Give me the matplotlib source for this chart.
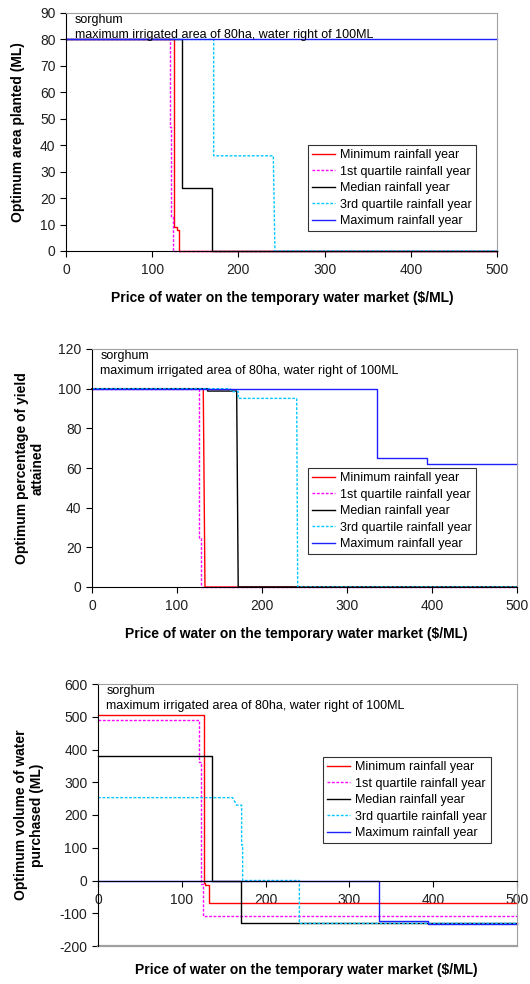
import numpy as np
import matplotlib
matplotlib.use("Agg")
import matplotlib.pyplot as plt

plt.rcParams['font.family'] = ['Liberation Sans', 'DejaVu Sans']
plt.rcParams['axes.unicode_minus'] = False

# series names (legend order)
series_names = ["Minimum rainfall year", "1st quartile rainfall year", "Median rainfall year",
                "3rd quartile rainfall year", "Maximum rainfall year"]
colors = ["#ff0000", "#ff00ff", "#000000", "#00c8ff", "#2020ff"]
dotted = [False, True, False, True, False]

# panel 1: optimum area planted
area_x = [
    [0, 125.6, 125.6, 128.4, 128.4, 131, 131, 500],
    [0, 121, 121, 122, 122, 124, 124, 500],
    [0, 134.2, 134.2, 169.7, 169.7, 500],
    [0, 171.3, 171.3, 240.5, 242.4, 500],
    [0, 500],
]
area_y = [
    [80, 80, 9.2, 9.2, 8, 8, 0, 0],
    [80, 80, 47, 47, 13, 13, 0, 0],
    [80, 80, 24, 24, 0, 0],
    [80, 80, 36, 36, 0, 0],
    [80, 80],
]

# panel 2: optimum percentage of yield attained
yield_x = [
    [0, 130.9, 132.9, 500],
    [0, 126.2, 126.2, 127.8, 127.8, 500],
    [0, 136, 136, 170.2, 172, 500],
    [0, 162.4, 164, 172, 172, 240.8, 242, 500],
    [0, 335, 335, 393.7, 393.7, 500],
]
yield_y = [
    [100, 100, 0, 0],
    [100, 100, 24.5, 24.5, 0, 0],
    [100, 100, 98.8, 98.8, 0, 0],
    [100, 100, 98.5, 98.5, 95.1, 95.1, 0, 0],
    [100, 100, 64.9, 64.9, 62, 62],
]

# panel 3: optimum volume of water purchased
vol_x = [
    [0, 125.9, 125.9, 128, 128, 131.9, 131.9, 500],
    [0, 120.9, 120.9, 122.5, 122.5, 125.7, 125.7, 500],
    [0, 135.7, 135.7, 170.8, 170.8, 500],
    [0, 160.7, 165.5, 171.4, 171.4, 172.6, 172.6, 240.3, 240.3, 500],
    [0, 335.3, 335.3, 393.4, 393.4, 500],
]
vol_y = [
    [506, 506, -8, -8, -14, -14, -70, -70],
    [490, 490, 363, 363, -12, -12, -108, -108],
    [380, 380, 0, 0, -131, -131],
    [253, 253, 230, 230, 108, 108, 0, 0, -131, -131],
    [0, 0, -123, -123, -133, -133],
]

note = "sorghum\nmaximum irrigated area of 80ha, water right of 100ML"
xlabel = "Price of water on the temporary water market ($/ML)"

W, H = 530, 984
fig = plt.figure(figsize=(W / 100, H / 100), dpi=100)


def make_axes(l, r, t, b):
    return fig.add_axes([l / W, 1 - b / H, (r - l) / W, (b - t) / H])


def style(ax):
    ax.spines['top'].set_color('#a0a0a0')
    ax.spines['right'].set_color('#a0a0a0')
    ax.spines['left'].set_color('black')
    ax.spines['bottom'].set_color('black')
    ax.tick_params(labelsize=10, length=4, width=0.8, colors='black', labelcolor='#202020')
    ax.tick_params(axis='x', pad=5)
    ax.set_xlim(0, 500)
    ax.set_xticks(np.arange(0, 501, 100))


def draw(ax, xs, ys, legend_pos):
    for x, y, c, d, name in zip(xs, ys, colors, dotted, series_names):
        ls = (0, (2, 1.2)) if d else '-'
        ax.plot(x, y, color=c, lw=1.0, ls=ls, label=name, clip_on=False)
    leg = ax.legend(loc='upper left', bbox_to_anchor=legend_pos, borderaxespad=0,
                    fontsize=9, frameon=True, fancybox=False, handlelength=1.8,
                    handletextpad=0.4, labelspacing=0.35, borderpad=0.35)
    leg.get_frame().set_edgecolor('black')
    leg.get_frame().set_linewidth(0.8)
    ax.text(0.02, 0.995, note, transform=ax.transAxes, fontsize=9, va='top', ha='left',
            linespacing=1.35)


# panel 1
ax1 = make_axes(66, 497, 13, 251)
style(ax1)
ax1.set_ylim(0, 90)
ax1.set_yticks(np.arange(0, 91, 10))
draw(ax1, area_x, area_y, (0.561, 0.445))
fig.text(18 / W, 1 - 132 / H, "Optimum area planted (ML)", rotation=90, ha='center',
         va='center', fontsize=10, fontweight='bold')
fig.text(282 / W, 1 - 298 / H, xlabel, ha='center', va='center', fontsize=10, fontweight='bold')

# panel 2
ax2 = make_axes(92, 517, 349, 587)
style(ax2)
ax2.set_ylim(0, 120)
ax2.set_yticks(np.arange(0, 121, 20))
draw(ax2, yield_x, yield_y, (0.508, 0.5))
fig.text(30 / W, 1 - 468 / H, "Optimum percentage of yield\nattained", rotation=90,
         ha='center', va='center', fontsize=10, fontweight='bold', multialignment='center')
fig.text(296 / W, 1 - 634 / H, xlabel, ha='center', va='center', fontsize=10, fontweight='bold')

# panel 3
ax3 = make_axes(98, 517, 684, 946)
style(ax3)
ax3.set_ylim(-200, 600)
ax3.set_yticks(np.arange(-200, 601, 100))
ax3.spines['bottom'].set_position(('data', 0))
ax3.axhline(-200, color='#a0a0a0', lw=1.6, clip_on=False)
draw(ax3, vol_x, vol_y, (0.537, 0.721))
fig.text(29 / W, 1 - 815 / H, "Optimum volume of water\npurchased (ML)", rotation=90,
         ha='center', va='center', fontsize=10, fontweight='bold', multialignment='center')
fig.text(306 / W, 1 - 970 / H, xlabel, ha='center', va='center', fontsize=10, fontweight='bold')

fig.savefig("out.png", dpi=100)
